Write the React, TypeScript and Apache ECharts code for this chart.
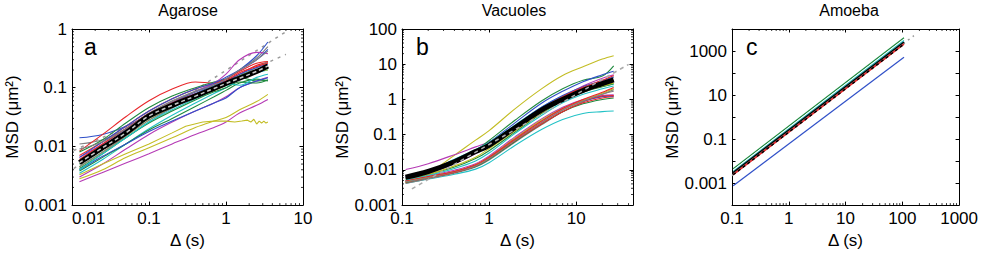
import React, { useEffect, useRef } from 'react';
import * as echarts from 'echarts';

const FONT = "'Liberation Sans', Arial, Helvetica, sans-serif";
const TICK_FONT = "'Liberation Sans Narrow', 'Liberation Sans', Arial, sans-serif";

const C = {
  red: '#e8262a',
  blue: '#3050c8',
  green: '#1f8a3f',
  cyan: '#22c2c6',
  magenta: '#b53ab5',
  yellow: '#c3bd24',
  grey: '#808080',
};

// ---------- Panel titles / labels ----------
const panelTitles = ['Agarose', 'Vacuoles', 'Amoeba'];
const panelLetters = ['a', 'b', 'c'];
const yAxisName = 'MSD (μm²)';
const xAxisName = 'Δ (s)';

// ---------- Axis ranges & tick labels ----------
const aXRange = [0.01, 10];
const aYRange = [0.001, 1];
const aXTicks = [0.01, 0.1, 1, 10];
const aXTickLabels = ['0.01', '0.1', '1', '10'];
const aYTicks = [0.001, 0.01, 0.1, 1];
const aYTickLabels = ['0.001', '0.01', '0.1', '1'];

const bXRange = [0.1, 45];
const bYRange = [0.001, 100];
const bXTicks = [0.1, 1, 10];
const bXTickLabels = ['0.1', '1', '10'];
const bYTicks = [0.001, 0.01, 0.1, 1, 10, 100];
const bYTickLabels = ['0.001', '0.01', '0.1', '1', '10', '100'];

const cXRange = [0.1, 1000];
const cYRange = [0.0001, 10000];
const cXTicks = [0.1, 1, 10, 100, 1000];
const cXTickLabels = ['0.1', '1', '10', '100', '1000'];
const cYTicks = [0.001, 0.1, 10, 1000];
const cYTickLabels = ['0.001', '0.1', '10', '1000'];

// ---------- Panel a: Agarose ----------
const aX = [0.0125, 0.025, 0.05, 0.1, 0.2, 0.4, 0.7, 1, 1.5, 2.5, 3.5];
const aRed1 = [0.0083, 0.016, 0.032, 0.06, 0.095, 0.125, 0.12, 0.13, 0.17, 0.24, 0.27];
const aBlue1 = [0.014, 0.016, 0.022, 0.035, 0.055, 0.08, 0.11, 0.14, 0.2, 0.35, 0.6];
const aGrey1 = [0.011, 0.013, 0.02, 0.037, 0.06, 0.088, 0.115, 0.14, 0.2, 0.32, 0.5];
const aGreen1 = [0.008, 0.013, 0.025, 0.046, 0.072, 0.1, 0.125, 0.14, 0.15, 0.13, 0.135];
const aMag1 = [0.0065, 0.011, 0.02, 0.036, 0.057, 0.085, 0.12, 0.17, 0.3, 0.4, 0.38];
const aRed2 = [0.006, 0.011, 0.02, 0.036, 0.055, 0.078, 0.1, 0.13, 0.18, 0.23, 0.26];
const aCyan1 = [0.0045, 0.008, 0.014, 0.026, 0.042, 0.065, 0.09, 0.11, 0.15, 0.2, 0.21];
const aBlue2 = [0.004, 0.0068, 0.011, 0.018, 0.027, 0.04, 0.055, 0.067, 0.1, 0.13, 0.148];
const aGreen2 = [0.0038, 0.0065, 0.011, 0.019, 0.03, 0.048, 0.07, 0.09, 0.12, 0.14, 0.13];
const aMag2 = [0.0025, 0.0036, 0.0052, 0.0075, 0.011, 0.016, 0.021, 0.026, 0.037, 0.05, 0.063];
const aYel1 = [0.0028, 0.004, 0.0065, 0.0095, 0.014, 0.021, 0.027, 0.031, 0.042, 0.058, 0.077];
const aCyan2 = [0.0035, 0.006, 0.011, 0.02, 0.034, 0.055, 0.08, 0.1, 0.14, 0.18, 0.2];
const aGreen3 = [0.005, 0.009, 0.016, 0.03, 0.048, 0.075, 0.1, 0.12, 0.16, 0.2, 0.22];
const aGrey2 = [0.0045, 0.008, 0.015, 0.028, 0.045, 0.07, 0.095, 0.12, 0.16, 0.22, 0.28];
const aBlue3 = [0.0055, 0.01, 0.019, 0.035, 0.055, 0.085, 0.11, 0.13, 0.17, 0.22, 0.25];
const aMag3 = [0.003, 0.005, 0.009, 0.016, 0.026, 0.04, 0.055, 0.07, 0.1, 0.13, 0.15];
const aRed3 = [0.007, 0.012, 0.022, 0.04, 0.065, 0.095, 0.12, 0.14, 0.19, 0.26, 0.28];
const aCyan3 = [0.004, 0.0075, 0.014, 0.026, 0.045, 0.075, 0.105, 0.12, 0.11, 0.15, 0.17];
const aYel3 = [0.0045, 0.008, 0.015, 0.028, 0.046, 0.07, 0.09, 0.11, 0.15, 0.19, 0.2];
const aGreen4 = [0.0042, 0.0075, 0.014, 0.025, 0.04, 0.062, 0.085, 0.1, 0.125, 0.12, 0.135];
const aBlue4 = [0.0065, 0.012, 0.022, 0.04, 0.065, 0.095, 0.12, 0.15, 0.2, 0.3, 0.45];
const aGrey3 = [0.009, 0.012, 0.02, 0.036, 0.058, 0.085, 0.11, 0.14, 0.2, 0.3, 0.42];
const aMean = [0.0053, 0.0095, 0.017, 0.033, 0.05, 0.072, 0.097, 0.118, 0.145, 0.19, 0.235];
const aYel2X = [0.0125, 0.025, 0.05, 0.1, 0.2, 0.3, 0.5, 0.7, 1, 1.3, 1.6, 1.9, 2.1, 2.3, 2.5, 2.7, 2.9, 3.1, 3.3, 3.5];
const aYel2 = [0.0033, 0.005, 0.0075, 0.011, 0.017, 0.022, 0.026, 0.027, 0.027, 0.026, 0.027, 0.028, 0.026, 0.029, 0.024, 0.027, 0.025, 0.027, 0.025, 0.026];
const aFitX = [0.0105, 6];
const aFitSteep = [0.0042, 0.9];
const aFitShallow = [0.0085, 0.37];

// ---------- Panel b: Vacuoles ----------
const bX = [0.11, 0.2, 0.4, 0.7, 1, 2, 4, 7, 12, 20, 27];
const bYel1 = [0.0045, 0.008, 0.026, 0.07, 0.13, 0.55, 2.0, 4.8, 8.5, 14, 17.5];
const bMag1 = [0.0102, 0.015, 0.027, 0.045, 0.062, 0.17, 0.55, 1.2, 2.4, 4.0, 5.0];
const bGreen1 = [0.006, 0.0085, 0.016, 0.035, 0.068, 0.26, 0.9, 2.0, 3.5, 4.6, 9.0];
const bBlue1 = [0.0058, 0.0082, 0.015, 0.032, 0.06, 0.22, 0.78, 1.7, 3.2, 5.0, 6.3];
const bCyan1 = [0.0063, 0.009, 0.02, 0.038, 0.06, 0.19, 0.6, 1.25, 2.0, 2.4, 2.7];
const bCyan2 = [0.0042, 0.0055, 0.0075, 0.0105, 0.016, 0.05, 0.14, 0.27, 0.4, 0.45, 0.47];
const bRed1 = [0.0045, 0.006, 0.0085, 0.013, 0.021, 0.068, 0.2, 0.45, 0.8, 1.1, 1.2];
const bRed2 = [0.005, 0.0065, 0.009, 0.014, 0.023, 0.076, 0.24, 0.55, 1.0, 1.6, 2.2];
const bRed3 = [0.0048, 0.0062, 0.0088, 0.0135, 0.022, 0.072, 0.22, 0.5, 0.9, 1.25, 1.3];
const bGrey1 = [0.0041, 0.0056, 0.008, 0.012, 0.019, 0.062, 0.19, 0.45, 0.85, 1.4, 1.9];
const bYel2 = [0.0046, 0.0063, 0.009, 0.014, 0.023, 0.08, 0.26, 0.55, 0.95, 1.5, 2.0];
const bGreen2 = [0.0044, 0.006, 0.0085, 0.0125, 0.02, 0.065, 0.2, 0.45, 0.75, 1.0, 1.1];
const bBlue2 = [0.0047, 0.0064, 0.009, 0.0135, 0.023, 0.08, 0.25, 0.55, 0.9, 1.2, 1.25];
const bMag2 = [0.005, 0.0068, 0.0098, 0.015, 0.025, 0.088, 0.28, 0.6, 1.0, 1.3, 1.35];
const bCyan3 = [0.0052, 0.007, 0.011, 0.018, 0.03, 0.11, 0.35, 0.8, 1.4, 2.0, 2.4];
const bGrey2 = [0.0062, 0.0085, 0.016, 0.031, 0.05, 0.17, 0.55, 1.2, 2.1, 3.2, 4.2];
const bGreen3 = [0.0056, 0.0075, 0.012, 0.021, 0.035, 0.12, 0.4, 0.9, 1.6, 2.3, 2.8];
const bBlue3 = [0.0066, 0.0092, 0.017, 0.033, 0.055, 0.18, 0.6, 1.3, 2.3, 3.4, 4.4];
const bMag3 = [0.006, 0.0082, 0.015, 0.029, 0.047, 0.15, 0.48, 1.05, 1.9, 2.8, 3.4];
const bRed4 = [0.0068, 0.0095, 0.018, 0.034, 0.053, 0.17, 0.55, 1.2, 2.2, 3.5, 4.8];
const bYel3 = [0.0055, 0.0075, 0.013, 0.023, 0.04, 0.13, 0.42, 0.95, 1.7, 2.4, 2.9];
const bGrey3 = [0.0046, 0.006, 0.0087, 0.013, 0.021, 0.07, 0.22, 0.5, 0.9, 1.4, 1.7];
const bMean = [0.0062, 0.009, 0.017, 0.033, 0.05, 0.16, 0.5, 1.0, 1.8, 2.8, 3.6];
const bFitX = [0.13, 40];
const bFit = [0.0029, 9.9];

// ---------- Panel c: Amoeba ----------
const cX = [0.105, 107];
const cGreen = [0.0045, 4000];
const cWhite = [0.0039, 3400];
const cCyan = [0.0034, 3000];
const cBlack = [0.0029, 2500];
const cGrey = [0.0026, 2200];
const cRed = [0.0024, 2050];
const cBlue = [0.00075, 520];
const cFitX = [0.1, 160];
const cFit = [0.0022, 5000];

const GRIDS = [
  { left: 72, top: 29, width: 231, height: 182 },
  { left: 402, top: 29, width: 231, height: 182 },
  { left: 732, top: 29, width: 231, height: 182 },
];

const zip = (xs: number[], ys: number[]) => xs.map((x, i) => [x, ys[i]]);

function minorValues(range: number[]) {
  const out: number[] = [];
  const e0 = Math.floor(Math.log10(range[0]));
  const e1 = Math.ceil(Math.log10(range[1]));
  for (let e = e0; e <= e1; e++) {
    for (let m = 2; m <= 9; m++) {
      const v = m * Math.pow(10, e);
      if (v > range[0] * 1.0001 && v < range[1] * 0.9999) out.push(v);
    }
  }
  return out;
}

function makeFormatter(ticks: number[], labels: string[]) {
  return (v: number) => {
    const lv = Math.log10(v);
    const idx = ticks.findIndex((t) => Math.abs(Math.log10(t) - lv) < 1e-6);
    return idx >= 0 ? labels[idx] : '';
  };
}

export default function App() {
  const ref = useRef<HTMLDivElement>(null);

  useEffect(() => {
    if (!ref.current) return;
    const chart = echarts.init(ref.current, undefined, { renderer: 'svg' });

    const panels = [
      { xr: aXRange, yr: aYRange, xt: aXTicks, xl: aXTickLabels, yt: aYTicks, yl: aYTickLabels, yMinor: true, minAlign: 'left' },
      { xr: bXRange, yr: bYRange, xt: bXTicks, xl: bXTickLabels, yt: bYTicks, yl: bYTickLabels, yMinor: true, minAlign: 'center' },
      { xr: cXRange, yr: cYRange, xt: cXTicks, xl: cXTickLabels, yt: cYTicks, yl: cYTickLabels, yMinor: false, minAlign: 'center' },
    ];

    const lineStyleAxis = { color: '#000', width: 1 };
    const xAxis: any[] = [];
    const yAxis: any[] = [];
    panels.forEach((p, i) => {
      xAxis.push({
        type: 'log', gridIndex: i, position: 'bottom', min: p.xr[0], max: p.xr[1],
        axisLine: { show: true, lineStyle: lineStyleAxis },
        axisTick: { show: true, inside: true, length: 3.5, lineStyle: lineStyleAxis },
        axisLabel: {
          show: true, formatter: makeFormatter(p.xt, p.xl), color: '#000', fontFamily: TICK_FONT,
          fontSize: 17, margin: 5, showMinLabel: true, showMaxLabel: true, hideOverlap: false,
          alignMinLabel: p.minAlign,
        },
        splitLine: { show: false },
        name: xAxisName, nameLocation: 'middle', nameGap: 22,
        nameTextStyle: { color: '#000', fontFamily: FONT, fontSize: 17 },
      });
      xAxis.push({
        type: 'log', gridIndex: i, position: 'top', min: p.xr[0], max: p.xr[1],
        axisLine: { show: true, lineStyle: lineStyleAxis },
        axisTick: { show: true, inside: true, length: 3.5, lineStyle: lineStyleAxis },
        axisLabel: { show: false }, splitLine: { show: false },
      });
      yAxis.push({
        type: 'log', gridIndex: i, position: 'left', min: p.yr[0], max: p.yr[1],
        axisLine: { show: true, lineStyle: lineStyleAxis },
        axisTick: { show: true, inside: true, length: 3.5, lineStyle: lineStyleAxis },
        axisLabel: {
          show: true, formatter: makeFormatter(p.yt, p.yl), color: '#000', fontFamily: TICK_FONT,
          fontSize: 17, margin: 5, showMinLabel: true, showMaxLabel: true, hideOverlap: false,
        },
        splitLine: { show: false },
        name: yAxisName, nameLocation: 'middle', nameGap: 45, nameRotate: 90,
        nameTextStyle: { color: '#000', fontFamily: FONT, fontSize: 17 },
      });
      yAxis.push({
        type: 'log', gridIndex: i, position: 'right', min: p.yr[0], max: p.yr[1],
        axisLine: { show: true, lineStyle: lineStyleAxis },
        axisTick: { show: true, inside: true, length: 3.5, lineStyle: lineStyleAxis },
        axisLabel: { show: false }, splitLine: { show: false },
      });
    });

    const series: any[] = [];
    const line = (panel: number, xs: number[], ys: number[], color: string, width = 1.1, extra: any = {}) => {
      series.push({
        type: 'line', xAxisIndex: panel * 2, yAxisIndex: panel * 2,
        data: zip(xs, ys), symbol: 'none', smooth: 0.35,
        lineStyle: { color, width, ...(extra.lineStyle || {}) },
        silent: true, z: extra.z ?? 2,
        ...(extra.smooth !== undefined ? { smooth: extra.smooth } : {}),
      });
    };

    // Panel a
    line(0, aFitX, aFitSteep, '#9a9a9a', 1.5, { lineStyle: { type: [3, 5] }, smooth: false, z: 1 });
    line(0, aFitX, aFitShallow, '#9a9a9a', 1.5, { lineStyle: { type: [3, 5] }, smooth: false, z: 1 });
    const aCurves: [number[], string][] = [
      [aGrey1, C.grey], [aBlue1, C.blue], [aRed1, C.red], [aGreen1, C.green], [aMag1, C.magenta],
      [aMag2, C.magenta], [aYel1, C.yellow], [aCyan2, C.cyan], [aMag3, C.magenta], [aGreen2, C.green],
      [aBlue2, C.blue], [aCyan1, C.cyan], [aGreen4, C.green], [aCyan3, C.cyan], [aYel3, C.yellow],
      [aGrey2, C.grey], [aGreen3, C.green], [aBlue3, C.blue], [aRed2, C.red], [aRed3, C.red],
      [aBlue4, C.blue], [aGrey3, C.grey],
    ];
    aCurves.forEach(([ys, col]) => line(0, aX, ys, col));
    line(0, aYel2X, aYel2, C.yellow, 1.1, { smooth: false });
    line(0, aX, aMean, '#000', 5, { z: 3 });
    line(0, aX, aMean, '#c8c8c8', 1.5, { lineStyle: { type: [4, 3] }, z: 4 });

    // Panel b
    const bCurves: [number[], string][] = [
      [bYel1, C.yellow], [bMag1, C.magenta], [bGreen1, C.green], [bBlue1, C.blue], [bCyan1, C.cyan],
      [bCyan2, C.cyan], [bGrey1, C.grey], [bGreen2, C.green], [bRed1, C.red], [bBlue2, C.blue],
      [bMag2, C.magenta], [bRed3, C.red], [bYel2, C.yellow], [bGrey3, C.grey], [bRed2, C.red],
      [bCyan3, C.cyan], [bGreen3, C.green], [bYel3, C.yellow], [bMag3, C.magenta], [bGrey2, C.grey],
      [bBlue3, C.blue], [bRed4, C.red],
    ];
    bCurves.forEach(([ys, col]) => line(1, bX, ys, col));
    line(1, bX, bMean, '#000', 5, { z: 3 });
    line(1, bFitX, bFit, '#aaaaaa', 1.5, { lineStyle: { type: [4, 4] }, smooth: false, z: 4 });

    // Panel c
    line(2, cFitX, cFit, '#9a9a9a', 1.5, { lineStyle: { type: [2, 4] }, smooth: false, z: 1 });
    line(2, cX, cGreen, C.green, 1.2, { smooth: false });
    line(2, cX, cWhite, '#ffffff', 1, { smooth: false });
    line(2, cX, cCyan, C.cyan, 1.2, { smooth: false });
    line(2, cX, cBlack, '#000', 2, { smooth: false });
    line(2, cX, cGrey, C.grey, 1.2, { smooth: false });
    line(2, cX, cRed, C.red, 1.5, { smooth: false });
    line(2, cX, cRed, '#000', 1.5, { lineStyle: { type: [3, 3] }, smooth: false, z: 3 });
    line(2, cX, cBlue, C.blue, 1.2, { smooth: false });

    // Minor log ticks (custom series)
    panels.forEach((p, i) => {
      const xm = minorValues(p.xr).map((v) => [v, p.yr[0]]);
      series.push({
        type: 'custom', xAxisIndex: i * 2, yAxisIndex: i * 2, silent: true, clip: false, z: 10,
        data: xm,
        renderItem: (_params: any, api: any) => {
          const v = api.value(0);
          const b = api.coord([v, p.yr[0]]);
          const t = api.coord([v, p.yr[1]]);
          return {
            type: 'group', children: [
              { type: 'line', shape: { x1: b[0], y1: b[1], x2: b[0], y2: b[1] - 2 }, style: { stroke: '#000', lineWidth: 0.8 } },
              { type: 'line', shape: { x1: t[0], y1: t[1], x2: t[0], y2: t[1] + 2 }, style: { stroke: '#000', lineWidth: 0.8 } },
            ],
          };
        },
      });
      if (p.yMinor) {
        const ym = minorValues(p.yr).map((v) => [p.xr[0], v]);
        series.push({
          type: 'custom', xAxisIndex: i * 2, yAxisIndex: i * 2, silent: true, clip: false, z: 10,
          data: ym,
          renderItem: (_params: any, api: any) => {
            const v = api.value(1);
            const l = api.coord([p.xr[0], v]);
            const r = api.coord([p.xr[1], v]);
            return {
              type: 'group', children: [
                { type: 'line', shape: { x1: l[0], y1: l[1], x2: l[0] + 2, y2: l[1] }, style: { stroke: '#000', lineWidth: 0.8 } },
                { type: 'line', shape: { x1: r[0], y1: r[1], x2: r[0] - 2, y2: r[1] }, style: { stroke: '#000', lineWidth: 0.8 } },
              ],
            };
          },
        });
      }
    });

    const titleX = [188, 514, 849];
    const letterX = [84, 416, 746];
    const graphic: any[] = [];
    panelTitles.forEach((t, i) => {
      graphic.push({
        type: 'text', x: titleX[i], y: 10, silent: true,
        style: { text: t, fill: '#000', font: `16px ${FONT}`, align: 'center', verticalAlign: 'middle', textAlign: 'center', textVerticalAlign: 'middle' },
      });
      graphic.push({
        type: 'text', x: letterX[i], y: 47, silent: true,
        style: { text: panelLetters[i], fill: '#000', font: `23px ${FONT}`, align: 'left', verticalAlign: 'middle', textAlign: 'left', textVerticalAlign: 'middle' },
      });
    });

    chart.setOption({
      animation: false,
      backgroundColor: '#ffffff',
      grid: GRIDS.map((g) => ({ ...g, containLabel: false })),
      xAxis,
      yAxis,
      series,
      graphic,
    });

    return () => chart.dispose();
  }, []);

  return (
    <div
      ref={ref}
      style={{ position: 'fixed', left: 0, top: 0, width: 981, height: 254, background: '#fff' }}
    />
  );
}
